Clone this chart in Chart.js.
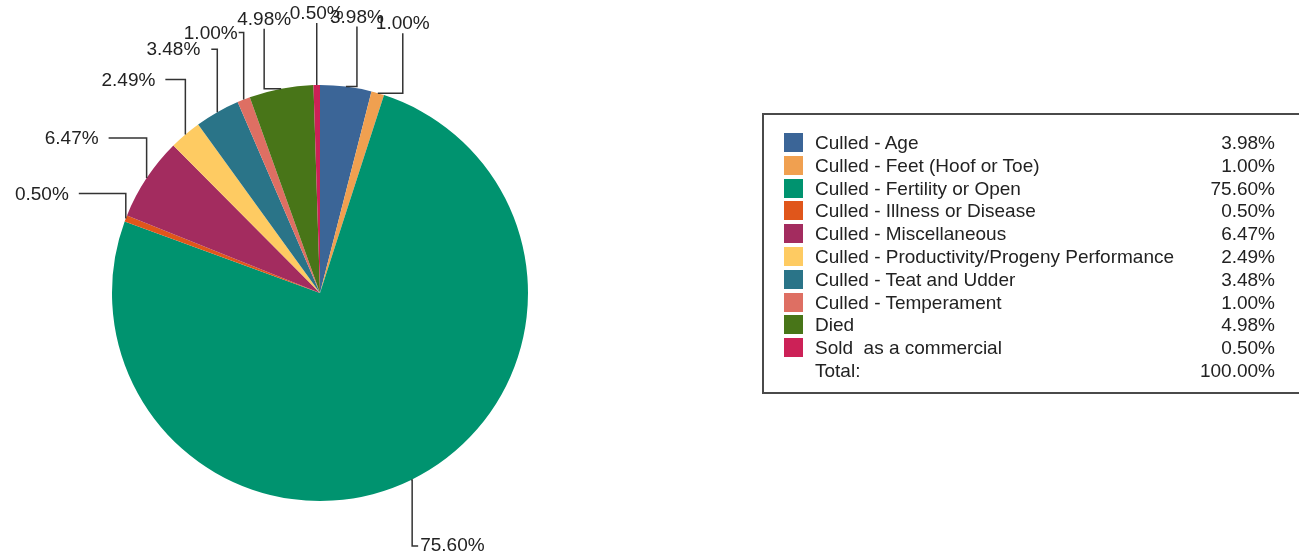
<!DOCTYPE html>
<html>
<head>
<meta charset="utf-8">
<script src="https://cdn.jsdelivr.net/npm/chart.js@4.4.1/dist/chart.umd.min.js"></script>
<style>
  body { margin: 0; background: #fff; overflow: hidden; }
  #wrap { position: relative; width: 1299px; height: 553px; }
  #pie_chart { position: absolute; left: 0; top: 0; }
  #legend_box {
    position: absolute; left: 762px; top: 113px; width: 560px; height: 281px;
    border: 2px solid #4a4a4a; box-sizing: border-box;
    font-family: "Liberation Sans", Arial, sans-serif; font-size: 19px; color: #222;
  }
  .row { position: absolute; left: 0; height: 23px; line-height: 23px; width: 100%; }
  .sw { position: absolute; left: 20px; top: 2px; width: 19px; height: 19px; }
  .lbl { position: absolute; left: 51px; white-space: pre; }
  .val { position: absolute; left: 0; width: 511px; text-align: right; }
</style>
</head>
<body>
<div id="wrap">
  <canvas id="pie_chart" width="1299" height="553"></canvas>
  <div id="legend_box"></div>
</div>
<script>
const categories = [
  "Culled - Age",
  "Culled - Feet (Hoof or Toe)",
  "Culled - Fertility or Open",
  "Culled - Illness or Disease",
  "Culled - Miscellaneous",
  "Culled - Productivity/Progeny Performance",
  "Culled - Teat and Udder",
  "Culled - Temperament",
  "Died",
  "Sold  as a commercial"
];
const percents = [3.98, 1.0, 75.6, 0.5, 6.47, 2.49, 3.48, 1.0, 4.98, 0.5];
const totalLabel = "Total:";
const totalValue = "100.00%";

const colors = [
  "#3b6597", "#f0a050", "#00936f", "#e0561b", "#a32c5f",
  "#fecb62", "#2a7488", "#de6f63", "#487518", "#cc2157"
];

// leader line layout per slice: shift along x, rise up (negative = down), stub, text gap
const leaderLayout = [
  { mode: "up", dx: 11, rise: 60 },
  { mode: "up", dx: 25, rise: 60 },
  { mode: "down", dx: 1, rise: -66, stub: 6, gap: 2 },
  { mode: "left", dx: 0, rise: 25, stub: 47, gap: 10 },
  { mode: "left", dx: 0, rise: 40, stub: 38, gap: 10 },
  { mode: "left", dx: 0, rise: 55, stub: 20, gap: 10 },
  { mode: "left", dx: 0, rise: 63, stub: 6, gap: 11 },
  { mode: "left", dx: 0, rise: 67, stub: 5, gap: 1 },
  { mode: "up", dx: -17, rise: 60 },
  { mode: "up", dx: 0, rise: 62 }
];

const fmt = (v) => v.toFixed(2) + "%";

const leaderLabels = {
  id: "leaderLabels",
  afterDatasetsDraw(chart) {
    const ctx = chart.ctx;
    const arcs = chart.getDatasetMeta(0).data;
    ctx.save();
    ctx.strokeStyle = "#333";
    ctx.lineWidth = 1.5;
    ctx.fillStyle = "#222";
    ctx.font = '19px "Liberation Sans", Arial, sans-serif';
    arcs.forEach((arc, i) => {
      const p = arc.getProps(["x", "y", "startAngle", "endAngle", "outerRadius"], true);
      const mid = (p.startAngle + p.endAngle) / 2;
      const ex = p.x + Math.cos(mid) * p.outerRadius;
      const ey = p.y + Math.sin(mid) * p.outerRadius;
      const lay = leaderLayout[i];
      const vx = ex + lay.dx;
      const top = ey - lay.rise;
      const text = fmt(percents[i]);
      ctx.beginPath();
      ctx.moveTo(ex, ey);
      ctx.lineTo(vx, ey);
      ctx.lineTo(vx, top);
      if (lay.mode === "left") {
        ctx.lineTo(vx - lay.stub, top);
      } else if (lay.mode === "down") {
        ctx.lineTo(vx + lay.stub, top);
      }
      ctx.stroke();
      if (lay.mode === "up") {
        ctx.textAlign = "center";
        ctx.textBaseline = "alphabetic";
        ctx.fillText(text, vx, top - 4);
      } else if (lay.mode === "left") {
        ctx.textAlign = "right";
        ctx.textBaseline = "middle";
        ctx.fillText(text, vx - lay.stub - lay.gap, top + 1);
      } else {
        ctx.textAlign = "left";
        ctx.textBaseline = "middle";
        ctx.fillText(text, vx + lay.stub + lay.gap, top);
      }
    });
    ctx.restore();
  }
};

new Chart(document.getElementById("pie_chart"), {
  type: "pie",
  data: {
    labels: categories,
    datasets: [
      {
        data: percents,
        backgroundColor: colors,
        borderWidth: 0,
      },
    ],
  },
  options: {
    responsive: false,
    animation: false,
    layout: {
      padding: { left: 112, top: 85, right: 771, bottom: 52 },
    },
    plugins: {
      legend: { display: false },
      tooltip: { enabled: false },
    },
  },
  plugins: [leaderLabels],
});

// legend table
const box = document.getElementById("legend_box");
const addRow = (idx, label, value, color) => {
  const row = document.createElement("div");
  row.className = "row";
  row.style.top = (16 + idx * 22.8) + "px";
  if (color) {
    const sw = document.createElement("div");
    sw.className = "sw";
    sw.style.background = color;
    row.appendChild(sw);
  }
  const lbl = document.createElement("div");
  lbl.className = "lbl";
  lbl.textContent = label;
  const val = document.createElement("div");
  val.className = "val";
  val.textContent = value;
  row.appendChild(lbl);
  row.appendChild(val);
  box.appendChild(row);
};
categories.forEach((c, i) => addRow(i, c, fmt(percents[i]), colors[i]));
addRow(categories.length, totalLabel, totalValue, null);
</script>
</body>
</html>
